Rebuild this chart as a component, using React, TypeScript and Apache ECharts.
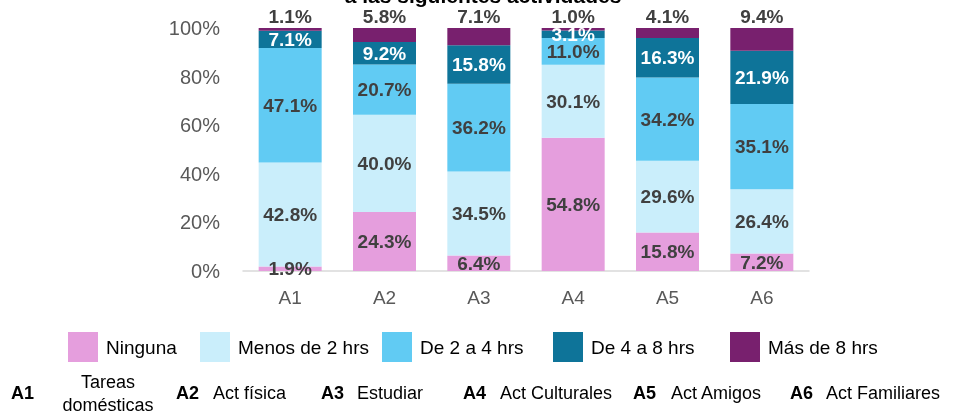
import React, { useEffect, useRef } from "react";
import * as echarts from "echarts";

const categories = ["A1", "A2", "A3", "A4", "A5", "A6"];
const seriesNames = ["Ninguna", "Menos de 2 hrs", "De 2 a 4 hrs", "De 4 a 8 hrs", "Más de 8 hrs"];
const ninguna = [1.9, 24.3, 6.4, 54.8, 15.8, 7.2];
const menos2 = [42.8, 40.0, 34.5, 30.1, 29.6, 26.4];
const de2a4 = [47.1, 20.7, 36.2, 11.0, 34.2, 35.1];
const de4a8 = [7.1, 9.2, 15.8, 3.1, 16.3, 21.9];
const mas8 = [1.1, 5.8, 7.1, 1.0, 4.1, 9.4];
const yTicks = [0, 20, 40, 60, 80, 100];
const activityCodes = ["A1", "A2", "A3", "A4", "A5", "A6"];
const activityNames = ["Tareas\ndomésticas", "Act física", "Estudiar", "Act Culturales", "Act Amigos", "Act Familiares"];
const titleText = "a las siguientes actividades";

const colors = ["#E59EDD", "#CAEEFB", "#61CBF3", "#0E7499", "#78206E"];
const labelColors = ["#404040", "#404040", "#404040", "#FFFFFF", "#404040"];
const narrow = '"Liberation Sans Narrow", "Arial Narrow", "Liberation Sans", Arial, sans-serif';
const sans = '"Liberation Sans", Arial, sans-serif';

export default function App() {
  const ref = useRef<HTMLDivElement>(null);
  useEffect(() => {
    if (!ref.current) return;
    const chart = echarts.init(ref.current, null, { renderer: "svg" });
    const allData = [ninguna, menos2, de2a4, de4a8, mas8];
    const legendLefts = [68, 200, 382, 553, 730];
    const codeX = [11, 176, 321, 463, 633, 790];
    const nameX = [108, 213, 357, 500, 671, 826];

    const graphic: any[] = [
      {
        type: "text",
        x: 483,
        y: 6,
        style: {
          text: titleText,
          align: "center",
          verticalAlign: "bottom",
          font: `bold 21px ${sans}`,
          fill: "#000000",
        },
      },
    ];
    activityCodes.forEach((c, i) => {
      graphic.push({
        type: "text",
        x: codeX[i],
        y: 393,
        style: {
          text: c,
          align: "left",
          verticalAlign: "middle",
          font: `bold 18px ${narrow}`,
          fill: "#000000",
        },
      });
      const multi = activityNames[i].includes("\n");
      graphic.push({
        type: "text",
        x: nameX[i],
        y: 393,
        style: {
          text: activityNames[i],
          align: multi ? "center" : "left",
          verticalAlign: "middle",
          font: `18px ${narrow}`,
          lineHeight: 23,
          fill: "#000000",
        },
      });
    });

    chart.setOption({
      animation: false,
      grid: { left: 243, right: 147, top: 28, bottom: 148, containLabel: false },
      legend: seriesNames.map((n, i) => ({
        data: [n],
        left: legendLefts[i],
        top: 332,
        padding: 0,
        itemWidth: 30,
        itemHeight: 30,
        icon: "rect",
        selectedMode: false,
        textStyle: { fontSize: 19, fontFamily: narrow, color: "#000000", padding: [0, 0, 0, 3] },
      })),
      xAxis: {
        type: "category",
        data: categories,
        axisLine: { lineStyle: { color: "#D9D9D9", width: 1.5 } },
        axisTick: { show: false },
        axisLabel: { fontSize: 19, color: "#595959", margin: 17, fontFamily: narrow },
      },
      yAxis: {
        type: "value",
        min: yTicks[0],
        max: yTicks[yTicks.length - 1],
        interval: yTicks[1] - yTicks[0],
        axisLine: { show: false },
        axisTick: { show: false },
        splitLine: { show: false },
        axisLabel: { formatter: "{value}%", fontSize: 20, color: "#595959", margin: 23, fontFamily: sans },
      },
      series: seriesNames.map((n, i) => ({
        name: n,
        type: "bar",
        stack: "total",
        barWidth: 63,
        data: allData[i],
        itemStyle: { color: colors[i] },
        label: {
          show: true,
          position: i === 4 ? "top" : "inside",
          distance: 2,
          formatter: (p: any) => `${Number(p.value).toFixed(1)}%`,
          fontSize: 19,
          fontWeight: "bold",
          fontFamily: sans,
          color: labelColors[i],
        },
      })),
      graphic,
    });
    return () => chart.dispose();
  }, []);
  return <div ref={ref} style={{ position: "fixed", left: 0, top: 0, width: 956, height: 419 }} />;
}
